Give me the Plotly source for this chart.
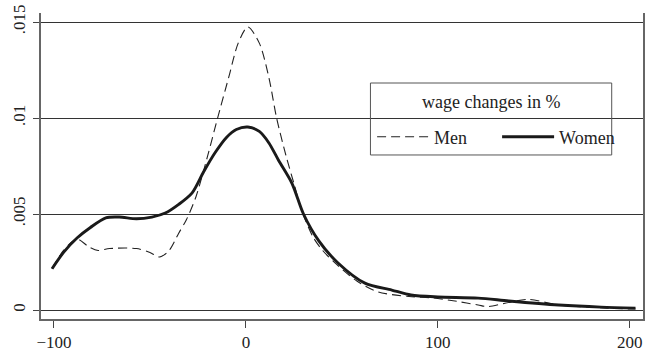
import plotly.graph_objects as go

# Kernel density of wage changes (in %), by gender
women_x = [-101, -95, -88, -81, -73, -66, -57, -49, -42, -35, -28, -22, -16, -10, -5, 1,
           7, 12, 17, 24, 30, 38, 48, 62, 76, 86, 100, 121, 137, 163, 185, 203]
women_y = [0.00215, 0.0030, 0.00375, 0.0043, 0.0048, 0.00484, 0.00475, 0.00484, 0.00505,
           0.0055, 0.0061, 0.0072, 0.0082, 0.0090, 0.0094, 0.00953, 0.0093, 0.0087, 0.0078,
           0.0066, 0.0050, 0.0036, 0.00245, 0.0014, 0.00104, 0.00078, 0.00068, 0.00062,
           0.00047, 0.00026, 0.00015, 0.0001]

men_x = [-101, -95, -88, -82, -77, -71, -57, -50, -45, -40, -35, -31, -26, -20, -15, -9, -4,
         1, 7, 12, 16, 21, 25, 29, 35, 40, 47, 58, 69, 85, 97, 110, 121, 126, 135, 147, 163,
         188, 203]
men_y = [0.00215, 0.0031, 0.0037, 0.0033, 0.0031, 0.0032, 0.0032, 0.0030, 0.00276, 0.0031,
         0.0040, 0.0047, 0.0059, 0.0080, 0.0099, 0.0121, 0.0139, 0.01474, 0.0139, 0.0121,
         0.0100, 0.0080, 0.0066, 0.0052, 0.0038, 0.0031, 0.0024, 0.0015, 0.00094, 0.0007,
         0.00063, 0.00045, 0.00026, 0.00018, 0.00035, 0.00055, 0.00026, 0.0001, 0.00005]

x_ticks = [-100, 0, 100, 200]
y_ticks = [0, 0.005, 0.01, 0.015]
y_tick_text = ["0", ".005", ".01", ".015"]
legend_title = "wage changes in %"

FONT = "Liberation Serif"

# legend frame: x in axis units, y in paper units
BOX_X0, BOX_X1 = 64.9, 190.6
BOX_Y0, BOX_Y1 = 0.536, 0.7712

fig = go.Figure()
fig.add_trace(go.Scatter(
    x=men_x, y=men_y, name="Men", mode="lines",
    line=dict(color="#222222", width=1.1, dash="9px,5px", shape="spline", smoothing=0.8),
))
fig.add_trace(go.Scatter(
    x=women_x, y=women_y, name="Women", mode="lines",
    line=dict(color="#1a1a1a", width=2.9, shape="spline", smoothing=0.8),
))

fig.add_shape(type="rect", xref="x", yref="paper",
              x0=BOX_X0, x1=BOX_X1, y0=BOX_Y0, y1=BOX_Y1,
              line=dict(color="#555555", width=1), fillcolor="rgba(0,0,0,0)", layer="above")
fig.add_annotation(text=legend_title, xref="x", yref="paper",
                   x=(BOX_X0 + BOX_X1) / 2, y=0.709, xanchor="center", yanchor="middle",
                   showarrow=False, font=dict(family=FONT, size=18, color="#222222"))

fig.update_layout(
    width=646, height=354,
    margin=dict(l=41, r=1, t=13, b=35),
    paper_bgcolor="white", plot_bgcolor="white",
    font=dict(family=FONT, size=17, color="#222222"),
    showlegend=True,
    legend=dict(
        orientation="h",
        x=0.550, xanchor="left", y=0.5948, yanchor="middle",
        bgcolor="rgba(0,0,0,0)", borderwidth=0,
        font=dict(family=FONT, size=18, color="#222222"),
        itemwidth=52, entrywidth=58,
    ),
    xaxis=dict(
        range=[-106.75, 206.9],
        tickvals=x_ticks,
        ticks="outside", ticklen=7, tickcolor="#444444", tickwidth=1,
        showline=True, linecolor="#666666", linewidth=1.5,
        showgrid=False, zeroline=False,
        tickfont=dict(family=FONT, size=17),
    ),
    yaxis=dict(
        range=[-0.000469, 0.015469],
        tickvals=y_ticks, ticktext=y_tick_text,
        tickangle=-90,
        ticks="outside", ticklen=6, tickcolor="#444444", tickwidth=1,
        showline=True, linecolor="#666666", linewidth=1.5, mirror=True,
        showgrid=True, gridcolor="#333333", gridwidth=1,
        zeroline=False,
        tickfont=dict(family=FONT, size=17),
        ticklabelstandoff=1,
    ),
)

fig.write_html("out.html")
